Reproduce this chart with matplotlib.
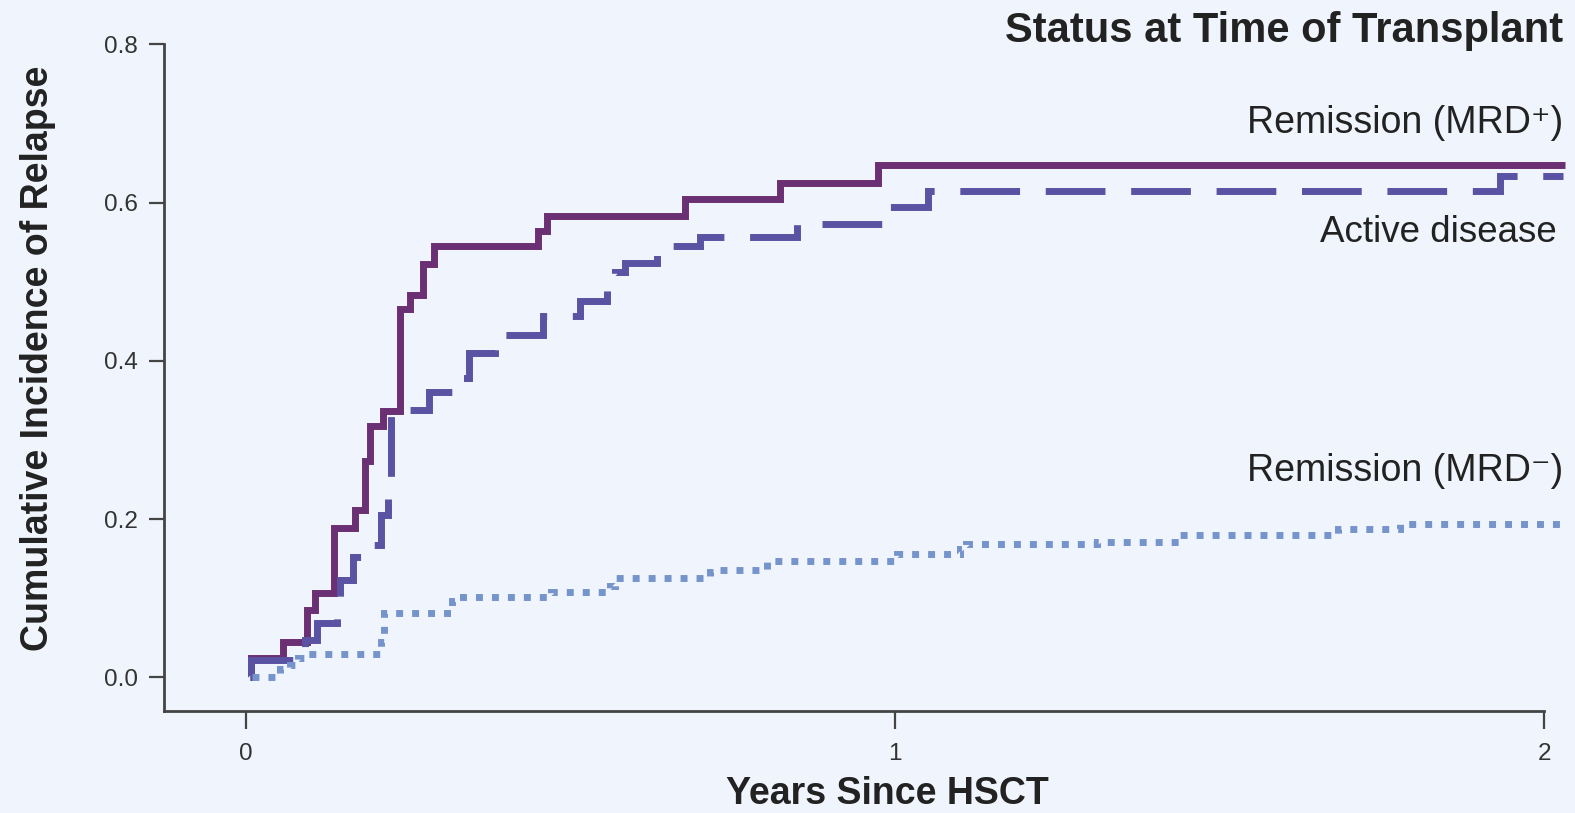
import matplotlib
matplotlib.use("Agg")
import matplotlib.pyplot as plt

# ---------------- data (years since HSCT, cumulative incidence) ----------------
mrd_pos_t = [0.007, 0.008, 0.0575, 0.0944, 0.1067, 0.136, 0.168, 0.184, 0.191, 0.2115,
             0.2377, 0.253, 0.273, 0.290, 0.450, 0.464, 0.677, 0.823, 0.974, 2.032]
mrd_pos_v = [0.0, 0.024, 0.045, 0.085, 0.107, 0.189, 0.211, 0.273, 0.317, 0.336,
             0.466, 0.483, 0.522, 0.545, 0.564, 0.583, 0.605, 0.625, 0.647, 0.647]

active_t = [0.007, 0.008, 0.0729, 0.0913, 0.1098, 0.1406, 0.1453, 0.1653, 0.1791, 0.2084,
            0.2192, 0.2238, 0.2823, 0.3332, 0.3440, 0.3840, 0.4580, 0.5149, 0.5565, 0.5688,
            0.5842, 0.6335, 0.6997, 0.8491, 0.9832, 1.0509, 1.932, 2.029]
active_v = [0.0, 0.022, 0.030, 0.047, 0.069, 0.081, 0.123, 0.152, 0.167, 0.205,
            0.240, 0.338, 0.361, 0.378, 0.410, 0.433, 0.456, 0.476, 0.503, 0.512,
            0.524, 0.545, 0.557, 0.573, 0.594, 0.615, 0.633, 0.633]

mrd_neg_t = [0.0097, 0.0528, 0.0682, 0.0805, 0.0913, 0.2084, 0.2130, 0.3178, 0.3240, 0.4703,
             0.5612, 0.5688, 0.7151, 0.7243, 0.8029, 1.0031, 1.1003, 1.1093, 1.3111, 1.4392,
             1.6826, 1.7780, 2.0308]
mrd_neg_v = [0.0, 0.010, 0.015, 0.025, 0.029, 0.045, 0.081, 0.096, 0.101, 0.108,
             0.115, 0.125, 0.1335, 0.135, 0.147, 0.156, 0.162, 0.169, 0.171, 0.180,
             0.188, 0.194, 0.194]

x_ticks = [0, 1, 2]
x_ticklabels = ["0", "1", "2"]
y_ticks = [0.0, 0.2, 0.4, 0.6, 0.8]
y_ticklabels = ["0.0", "0.2", "0.4", "0.6", "0.8"]

series_labels = ["Remission (MRD\u207a)", "Active disease", "Remission (MRD\u207b)"]
title = "Status at Time of Transplant"
xlabel = "Years Since HSCT"
ylabel = "Cumulative Incidence of Relapse"

# ---------------- style ----------------
plt.rcParams['font.family'] = ['Liberation Sans', 'DejaVu Sans']
BG = "#F0F4FC"
C_POS = "#6B2F73"
C_ACT = "#5A52A3"
C_NEG = "#7694CC"
AX_C = "#444444"
TXT = "#222222"

W, H = 1575, 813
fig = plt.figure(figsize=(W / 100, H / 100), dpi=100, facecolor=BG)

left_px, right_px = 163.9, 1575.0
top_px, bottom_px = 44.3, 710.7
ax = fig.add_axes([left_px / W, 1 - bottom_px / H, (right_px - left_px) / W, (bottom_px - top_px) / H])
ax.set_facecolor(BG)

ax.step(mrd_pos_t, mrd_pos_v, where='post', color=C_POS, lw=5, solid_capstyle='butt',
        solid_joinstyle='miter', clip_on=False)
ax.step(active_t, active_v, where='post', color=C_ACT, lw=5, linestyle=(0, (8.6, 3.7)),
        dash_capstyle='butt', dash_joinstyle='miter', clip_on=False)
ax.step(mrd_neg_t, mrd_neg_v, where='post', color=C_NEG, lw=5, linestyle=(0, (1.0, 1.3)),
        dash_capstyle='butt', dash_joinstyle='miter', clip_on=False)

ax.set_xlim(-0.126, (right_px - 245.7) / 649.2)
ax.set_ylim(-0.0422, 0.8)

for s in ['top', 'right']:
    ax.spines[s].set_visible(False)
for s in ['left', 'bottom']:
    ax.spines[s].set_color(AX_C)
    ax.spines[s].set_linewidth(2)
ax.spines['bottom'].set_bounds(-0.126, 2.0)
ax.spines['left'].set_bounds(-0.0422, 0.8)

ax.set_xticks(x_ticks)
ax.set_xticklabels(x_ticklabels)
ax.set_yticks(y_ticks)
ax.set_yticklabels(y_ticklabels)
ax.tick_params(axis='both', colors=AX_C, width=1.6, length=11, labelsize=17.5, labelcolor="#333333")
ax.tick_params(axis='y', pad=8)
ax.tick_params(axis='x', length=13, pad=10)

ax.set_xlabel(xlabel, fontsize=27, fontweight='bold', color=TXT, va='center')
ax.xaxis.set_label_coords((887 - left_px) / (right_px - left_px), (bottom_px - 794) / (bottom_px - top_px))
ax.set_ylabel(ylabel, fontsize=27, fontweight='bold', color=TXT, va='center')
ax.yaxis.set_label_coords((38 - left_px) / (right_px - left_px), (bottom_px - 358) / (bottom_px - top_px))

def ftext(x, y, s, **kw):
    fig.text(x / W, 1 - y / H, s, **kw)

ftext(1563, 31, title, fontsize=30, fontweight='bold', color=TXT, ha='right', va='center')
ftext(1563, 123, series_labels[0], fontsize=27, color=TXT, ha='right', va='center')
ftext(1557, 233, series_labels[1], fontsize=26.5, color=TXT, ha='right', va='center')
ftext(1563, 471, series_labels[2], fontsize=27, color=TXT, ha='right', va='center')

fig.savefig("out.png", dpi=100, facecolor=BG)
